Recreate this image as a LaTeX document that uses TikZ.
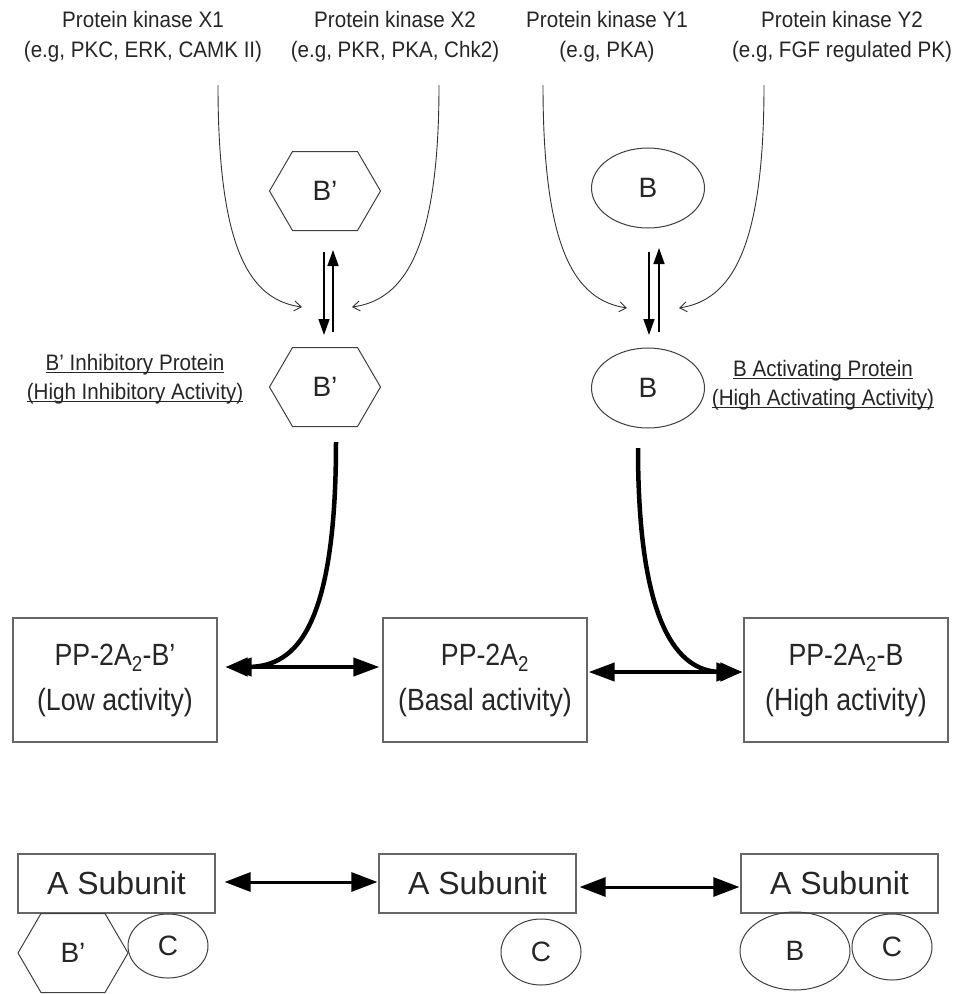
\documentclass[tikz,border=0pt]{standalone}
\usepackage{fontspec}
\setmainfont{Liberation Sans}
\newfontfamily\hdrfont[FakeStretch=0.92]{Liberation Sans}
\newfontfamily\boxfont[FakeStretch=0.87]{Liberation Sans}
\usetikzlibrary{arrows.meta,shapes.geometric,calc}
\newcommand\hexdraw[1]{\draw[shapeline] (#1.west) -- ($(#1.north west)+(23,0)$) -- ($(#1.north east)+(-23,0)$) -- (#1.east) -- ($(#1.south east)+(-23,0)$) -- ($(#1.south west)+(23,0)$) -- cycle;}
\begin{document}
\begin{tikzpicture}[x=1pt,y=-1pt,
  every node/.style={text=black!85},
  hdr/.style={align=center, font=\hdrfont\fontsize{22.4}{30}\selectfont, inner sep=0pt},
  lbl/.style={align=center, font=\hdrfont\fontsize{22.4}{29}\selectfont, inner sep=0pt},
  pbox/.style={draw=black!60, line width=1.2pt, minimum width=204pt, minimum height=124pt, align=center, font=\boxfont\fontsize{30.7}{45}\selectfont, inner sep=0pt},
  abox/.style={draw=black!60, line width=1.2pt, minimum width=197pt, minimum height=59pt, font=\fontsize{32}{38}\selectfont, inner sep=0pt},
  hexn/.style={minimum width=111pt, minimum height=79pt, outer sep=0pt, inner sep=0pt, font=\fontsize{28}{32}\selectfont},
  shapeline/.style={draw=black!75, line width=1pt},
  ell/.style={ellipse, draw=black!75, line width=1pt, inner sep=0pt, outer sep=0pt, font=\fontsize{28}{32}\selectfont},
  kcurve/.style={line width=0.9pt, draw=black!80, -{Straight Barb[length=7pt,width=10pt]}},
  sarr/.style={line width=1.5pt, -{Triangle[length=16pt,width=11pt]}},
  tcurve/.style={line width=4.5pt, -{Triangle[length=22pt,width=18pt]}},
  dbl/.style={line width=4pt, {Triangle[length=26pt,width=18pt]}-{Triangle[length=26pt,width=18pt]}},
  dbls/.style={line width=3pt, {Triangle[length=26pt,width=19pt]}-{Triangle[length=26pt,width=19pt]}}
]
\fill[white] (0,0) rectangle (956,994);
\useasboundingbox (0,0) rectangle (956,994);

% header texts
\node[hdr] (kx1) at (143,37) {Protein kinase X1\\(e.g, PKC, ERK, CAMK II)};
\node[hdr] (kx2) at (395,37) {Protein kinase X2\\(e.g, PKR, PKA, Chk2)};
\node[hdr] (ky1) at (607,37) {Protein kinase Y1\\(e.g, PKA)};
\node[hdr] (ky2) at (842,37) {Protein kinase Y2\\(e.g, FGF regulated PK)};

% upper shapes
\node[hexn] (hx1) at (325,191) {B’};
\hexdraw{hx1}
\node[hexn] (hx2) at (325,387) {B’};
\hexdraw{hx2}
\node[ell, minimum width=113pt, minimum height=80pt] (eb1) at (648,188) {B};
\node[ell, minimum width=113pt, minimum height=80pt] (eb2) at (648,388) {B};

% labels
\node[lbl] (lbp) at (135,386) {\underline{\smash{B’ Inhibitory Protein}}\\\underline{\smash{(High Inhibitory Activity)}}};
\node[lbl] (lb) at (823,392) {\underline{\smash{B Activating Protein}}\\\underline{\smash{(High Activating Activity)}}};

% kinase curves
\coordinate (x1s) at (218,85); \coordinate (x1e) at (302,307);
\coordinate (x2s) at (439,85); \coordinate (x2e) at (352,307);
\coordinate (y1s) at (543,85); \coordinate (y1e) at (627,308);
\coordinate (y2s) at (764,85); \coordinate (y2e) at (679,308);
\draw[kcurve] (x1s) .. controls (218,250) and (250,300) .. (x1e);
\draw[kcurve] (x2s) .. controls (439,250) and (404,300) .. (x2e);
\draw[kcurve] (y1s) .. controls (543,250) and (575,300) .. (y1e);
\draw[kcurve] (y2s) .. controls (764,250) and (731,300) .. (y2e);

% small arrows between forms
\draw[sarr] ($(hx1.south)+(-1,21.5)$) -- ($(hx2.north)+(-1,-12.5)$);
\draw[sarr] ($(hx2.north)+(8,-15.5)$) -- ($(hx1.south)+(8,19.5)$);
\draw[sarr] ($(eb1.south)+(1,24)$) -- ($(eb2.north)+(1,-13)$);
\draw[sarr] ($(eb2.north)+(11,-16)$) -- ($(eb1.south)+(11,20)$);

% middle boxes
\node[pbox] (p1) at (115,680) {PP-2A\textsubscript{2}-B’\\(Low activity)};
\node[pbox] (p2) at (485,680) {PP-2A\textsubscript{2}\\(Basal activity)};
\node[pbox] (p3) at (846,680) {PP-2A\textsubscript{2}-B\\(High activity)};

% thick curves
\draw[tcurve] ($(hx2.south)+(11,15.5)$) .. controls (336,640) and (290,667) .. ($(p1.east)+(8,-13)$);
\draw[tcurve] ($(eb2.south)+(-10,20)$) .. controls (638,640) and (685,672) .. ($(p3.west)+(-1,-8)$);

% double arrows
\draw[dbl] ($(p1.east)+(8,-13)$) -- ($(p2.west)+(-3,-13)$);
\draw[dbl] ($(p2.east)+(1,-8)$) -- ($(p3.west)+(-1,-8)$);

% bottom boxes
\node[abox] (a1) at (116.5,883.5) {A Subunit};
\node[abox] (a2) at (477.5,883.5) {A Subunit};
\node[abox] (a3) at (839.5,883.5) {A Subunit};

\draw[dbls] ($(a1.east)+(9,-1.5)$) -- ($(a2.west)+(-1,-1.5)$);
\draw[dbls] ($(a2.east)+(3,3.5)$) -- ($(a3.west)+(-1,3.5)$);

% bottom subunits
\node[hexn, minimum width=110pt] (hx3) at (73,953) {B’};
\hexdraw{hx3}
\node[ell, minimum width=80pt, minimum height=64pt] (c1) at (168,946) {C};
\node[ell, minimum width=80pt, minimum height=66pt] (c2) at (541,952) {C};
\node[ell, minimum width=110pt, minimum height=78pt] (bb) at (795,951) {B};
\node[ell, minimum width=80pt, minimum height=66pt] (c3) at (892,947) {C};
\end{tikzpicture}
\end{document}
